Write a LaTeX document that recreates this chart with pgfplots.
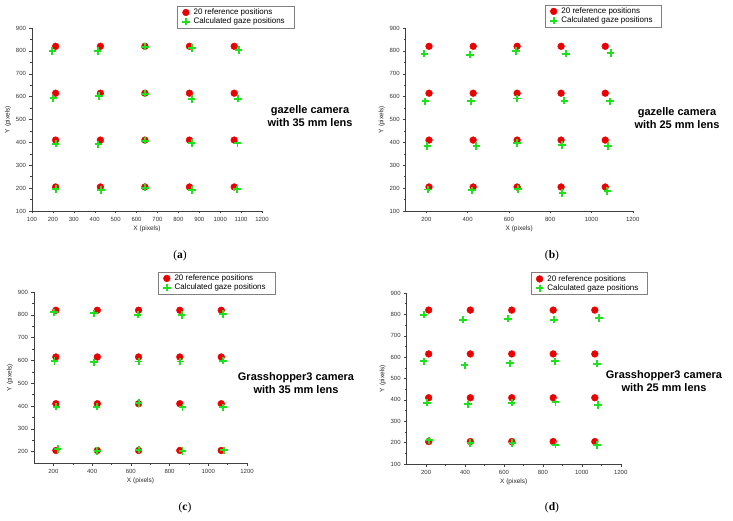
\documentclass[border=0pt]{standalone}
\usepackage{pgfplots}
\pgfplotsset{compat=1.18}
\usepackage{fontspec}
\setmainfont{Liberation Sans}
\newfontfamily\capfont{Liberation Serif}
\definecolor{refred}{RGB}{235,0,0}
\definecolor{gzgreen}{RGB}{30,225,30}
\pgfplotsset{
  panel/.style={scale only axis, anchor=south west, axis lines=left,
    axis line style={-, black!75, line width=0.5pt},
    tick align=outside, major tick length=2.5pt, minor tick length=1.5pt,
    tick style={black!75, line width=0.4pt}, minor tick num=1,
    ymax=900, xmin=100, xmax=1200,
    /pgf/number format/assume math mode=true, /pgf/number format/1000 sep={},
    tick label style={font=\fontsize{6}{7}\selectfont, text=black!80},
    xlabel={X (pixels)}, ylabel={Y (pixels)},
    label style={font=\fontsize{6.5}{8}\selectfont, text=black!85},
    xlabel style={yshift=2pt}, ylabel style={yshift=-2pt},
    legend cell align=left,
    legend style={draw=black!50, line width=0.4pt, font=\fontsize{8}{9}\selectfont,
      inner xsep=5pt, inner ysep=0.6pt, row sep=-2pt, anchor=north east,
      nodes={inner xsep=4pt}},
    clip=false},
  refp/.style={only marks, mark=*, mark size=3.4pt, mark options={fill=refred, draw=refred}},
  gzp/.style={only marks, mark=+, mark size=3.7pt, mark options={draw=gzgreen, line width=1.9pt}},
}
\begin{document}
\begin{tikzpicture}
\path[use as bounding box] (0pt,0pt) rectangle (733pt,520pt);
% (a)
\begin{axis}[panel, at={(32pt,309pt)}, width=230pt, height=183pt, ymin=100,
  xtick={100,200,...,1200}, ytick={100,200,...,900},
  legend style={at={(1.139,1.12)}}]
\addplot[refp] table {
213 820
427 820
640 820
853 820
1067 820
213 615
427 615
640 615
853 615
1067 615
213 410
427 410
640 410
853 410
1067 410
213 205
427 205
640 205
853 205
1067 205
};
\addplot[gzp] table {
197 800
414 800
640 818
866 812
1088 803
202 593
421 602
640 613
864 590
1086 591
213 394
417 392
640 407
864 398
1083 398
213 197
430 191
640 202
866 191
1081 195
};
\legend{20 reference positions, Calculated gaze positions}
\end{axis}
% (b)
\begin{axis}[panel, at={(405.7pt,309pt)}, width=227pt, height=183pt, ymin=100,
  xtick={200,400,...,1200}, ytick={100,200,...,900},
  legend style={at={(1.128,1.126)}}]
\addplot[refp] table {
213 820
427 820
640 820
853 820
1067 820
213 615
427 615
640 615
853 615
1067 615
213 410
427 410
640 410
853 410
1067 410
213 205
427 205
640 205
853 205
1067 205
};
\addplot[gzp] table {
190 788
412 783
634 800
876 788
1093 790
195 580
417 580
640 592
869 582
1090 580
205 385
442 385
640 397
858 388
1080 385
208 194
422 190
645 196
859 178
1077 187
};
\legend{20 reference positions, Calculated gaze positions}
\end{axis}
% (c)
\begin{axis}[panel, at={(34pt,57pt)}, width=213pt, height=171pt, ymin=150,
  xtick={200,400,...,1200}, ytick={200,300,...,900},
  legend style={at={(1.131,1.117)}}]
\addplot[refp] table {
213 820
427 820
640 820
853 820
1067 820
213 615
427 615
640 615
853 615
1067 615
213 410
427 410
640 410
853 410
1067 410
213 205
427 205
640 205
853 205
1067 205
};
\addplot[gzp] table {
203 811
410 806
635 801
862 799
1077 804
206 597
410 592
640 595
856 595
1077 599
215 397
424 397
640 413
867 394
1077 394
222 212
427 203
640 209
867 203
1081 206
};
\legend{20 reference positions, Calculated gaze positions}
\end{axis}
% (d)
\begin{axis}[panel, at={(406.7pt,56pt)}, width=214pt, height=171pt, ymin=100,
  xtick={200,400,...,1200}, ytick={100,200,...,900},
  legend style={at={(1.126,1.12)}}]
\addplot[refp] table {
213 820
427 820
640 820
853 820
1067 820
213 615
427 615
640 615
853 615
1067 615
213 410
427 410
640 410
853 410
1067 410
213 205
427 205
640 205
853 205
1067 205
};
\addplot[gzp] table {
187 799
389 775
621 780
858 775
1088 783
187 580
398 562
630 571
862 580
1079 569
204 387
415 379
640 387
865 390
1083 376
216 211
427 198
643 198
865 191
1079 188
};
\legend{20 reference positions, Calculated gaze positions}
\end{axis}
% annotations
\begin{scope}[every node/.style={font=\bfseries\fontsize{11}{13}\selectfont, align=center}]
\node at (310pt,404pt) {gazelle camera\\with 35 mm lens};
\node at (677pt,402pt) {gazelle camera\\with 25 mm lens};
\node at (296pt,137pt) {Grasshopper3 camera\\with 35 mm lens};
\node at (664pt,139pt) {Grasshopper3 camera\\with 25 mm lens};
\end{scope}
\begin{scope}[every node/.style={font=\capfont\fontsize{11.5}{13}\selectfont}]
\node at (180pt,264pt) {(\textbf{a})};
\node at (552pt,264pt) {(\textbf{b})};
\node at (185pt,12pt) {(\textbf{c})};
\node at (552pt,12pt) {(\textbf{d})};
\end{scope}
\end{tikzpicture}
\end{document}
